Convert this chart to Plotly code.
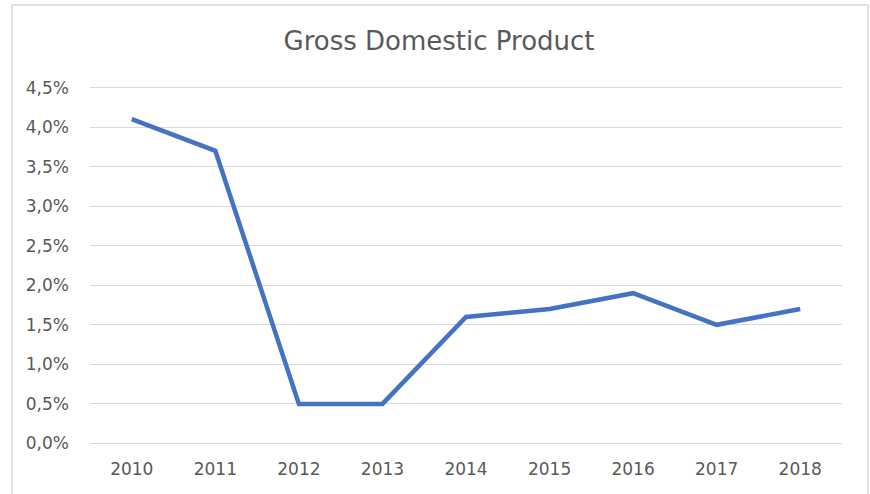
import plotly.graph_objects as go

years = ["2010", "2011", "2012", "2013", "2014", "2015", "2016", "2017", "2018"]
gdp = [0.041, 0.037, 0.005, 0.005, 0.016, 0.017, 0.019, 0.015, 0.017]
y_ticks = [0.0, 0.005, 0.01, 0.015, 0.02, 0.025, 0.03, 0.035, 0.04, 0.045]
y_tick_labels = ["0,0%", "0,5%", "1,0%", "1,5%", "2,0%", "2,5%", "3,0%", "3,5%", "4,0%", "4,5%"]

W, H = 870, 494
L, R, T, B = 90, 28, 86, 49
pw, ph = W - L - R, H - T - B

fig = go.Figure()
fig.add_trace(go.Scatter(
    x=years, y=gdp, mode="lines",
    line=dict(color="#4472C4", width=4.5),
    hoverinfo="skip", showlegend=False,
))

font_fam = "DejaVu Sans, sans-serif"
fig.update_layout(
    width=W, height=H,
    margin=dict(l=L, r=R, t=T, b=B, pad=0),
    paper_bgcolor="white", plot_bgcolor="white",
    font=dict(family=font_fam, color="#595959", size=16),
    title=dict(text="Gross Domestic Product", x=439 / W, xanchor="center",
               y=1 - 41 / H, yanchor="middle",
               font=dict(size=26, color="#595959", family=font_fam)),
    xaxis=dict(
        type="category", range=[-0.5, 8.5], showgrid=False, zeroline=False,
        showline=False, ticks="", ticklabelstandoff=12,
        tickfont=dict(size=17, color="#595959"),
    ),
    yaxis=dict(
        range=[-0.0002, 0.0452], tickvals=y_ticks, ticktext=y_tick_labels,
        showgrid=True, gridcolor="#D9D9D9", gridwidth=1.2, zeroline=False,
        showline=False, ticks="", ticklabelstandoff=20,
        tickfont=dict(size=17, color="#595959"),
    ),
)

# chart border
x0 = (12 - L) / pw
x1 = (868 - L) / pw
y1 = (H - B - 5) / ph
y0 = (H - B - 505) / ph
fig.add_shape(type="rect", xref="paper", yref="paper", x0=x0, x1=x1, y0=y0, y1=y1,
              line=dict(color="#D9D9D9", width=1.5), fillcolor="rgba(0,0,0,0)", layer="below")

fig.write_html("out.html", config={"displayModeBar": False},
               post_script="document.body.style.margin='0';document.body.style.overflow='hidden';")
